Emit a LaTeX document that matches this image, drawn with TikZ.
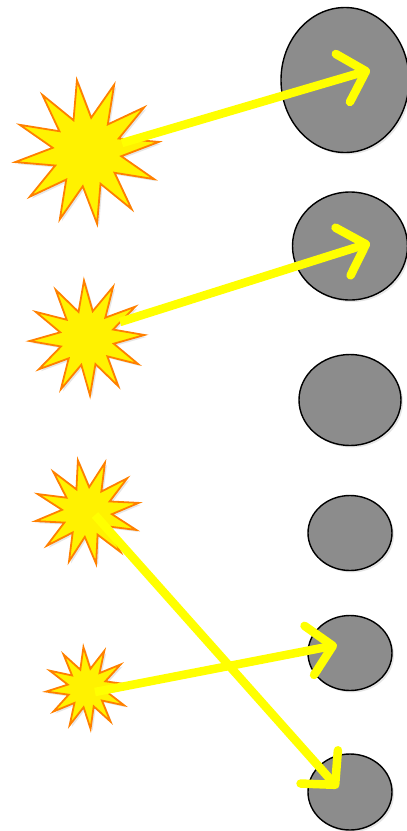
\documentclass[tikz,border=0pt]{standalone}
\usetikzlibrary{shapes.geometric,arrows.meta,shadows}
\definecolor{flash}{RGB}{255,242,0}
\definecolor{flashrim}{RGB}{255,128,0}
\definecolor{beam}{RGB}{255,255,0}
\definecolor{target}{RGB}{140,140,140}
\begin{document}
\begin{tikzpicture}[x=1pt,y=-1pt,
  burst/.style={star, star points=12, star point ratio=2.1, inner sep=0pt,
    fill=flash, draw=flashrim, line width=1.8pt, line join=miter,
    drop shadow={opacity=0.2, shadow xshift=2pt, shadow yshift=-2pt}},
  blob/.style={ellipse, inner sep=0pt, fill=target, draw=black, line width=1.4pt,
    drop shadow={opacity=0.2, shadow xshift=2pt, shadow yshift=-2pt}},
  ray/.style={beam, line width=8.5pt,
    -{Straight Barb[length=24pt, width=50pt, line cap=round, line join=round]}}]
  \useasboundingbox (0,0) rectangle (407,831);
  % targets
  \node[blob, minimum width=128pt, minimum height=145pt] (c1) at (345,80) {};
  \node[blob, minimum width=115pt, minimum height=108pt] (c2) at (350,246) {};
  \node[blob, minimum width=102pt, minimum height=91pt] (c3) at (350,400) {};
  \node[blob, minimum width=84pt, minimum height=75pt] (c4) at (350,533) {};
  \node[blob, minimum width=84pt, minimum height=75pt] (c5) at (350,653) {};
  \node[blob, minimum width=84pt, minimum height=76pt] (c6) at (350,792) {};
  % sources
  \node[burst, minimum size=145pt, rotate=8] (s1) at (87,152) {};
  \node[burst, minimum size=115pt, rotate=3] (s2) at (87,338) {};
  \node[burst, minimum size=105pt, rotate=10] (s3) at (87,512) {};
  \node[burst, minimum size=82pt, rotate=5] (s4) at (87,688) {};
  % beam ends
  \coordinate (b1) at (122,143);
  \coordinate (b2) at (120,322);
  \coordinate (b3) at (95,515);
  \coordinate (b4) at (95,692);
  \coordinate (t1) at (370,70);
  \coordinate (t2) at (370,243);
  \coordinate (t5) at (337,645);
  \coordinate (t6) at (338,788);
  \draw[ray] (b1) -- (t1);
  \draw[ray] (b2) -- (t2);
  \draw[ray] (b3) -- (t6);
  \draw[ray] (b4) -- (t5);
\end{tikzpicture}
\end{document}
